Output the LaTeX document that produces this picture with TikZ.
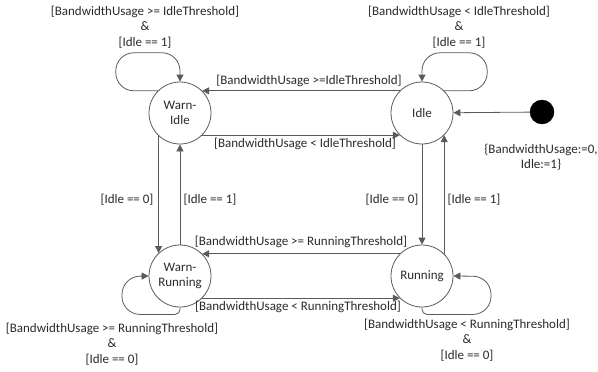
\documentclass[tikz,border=0pt]{standalone}
\usepackage{fontspec}
\setmainfont{Carlito}
\usetikzlibrary{arrows.meta}
\definecolor{linec}{HTML}{5A5A5A}
\definecolor{textc}{HTML}{2A2A2A}
\begin{document}
\begin{tikzpicture}[x=1pt,y=-1pt,
  state/.style={circle,draw=linec,line width=0.8pt,minimum size=62pt,inner sep=0pt,align=center,text=textc,font=\fontsize{13}{14.5}\selectfont},
  lbl/.style={inner sep=0pt,align=center,text=textc,font=\fontsize{13}{15.5}\selectfont},
  arr/.style={draw=linec,line width=0.8pt,-{Triangle[length=7pt,width=7pt]}},
  initdot/.style={circle,fill=black,draw=black,minimum size=24pt,inner sep=0pt}
  ]
\useasboundingbox (0,0) rectangle (598,372);

\node[state] (wi) at (180,113) {Warn-\\Idle};
\node[state] (id) at (422,113) {Idle};
\node[state] (wr) at (180,276) {Warn-\\Running};
\node[state] (ru) at (422,276) {Running};
\node[initdot] (init) at (542,112) {};

% horizontal transitions
\draw[arr] (id.135) -- (wi.45);
\draw[arr] (wi.-45) -- (id.-135);
\draw[arr] (ru.135) -- (wr.45);
\draw[arr] (wr.-45) -- (ru.-135);

% vertical transitions
\draw[arr] (wi.-133) -- (wr.133);
\draw[arr] (wr.north) -- (wi.south);
\draw[arr] (id.south) -- (ru.north);
\draw[arr] (ru.45) -- (id.-45);

% initial
\draw[arr] (init) -- (id);

% self loops
\draw[arr,rounded corners=18pt] (wi.135) -- ++(-42,0) -- ++(0,-38) -| (wi.north);
\draw[arr,rounded corners=18pt] (id.45) -- ++(43,0) -- ++(0,-38) -| (id.north);
\draw[arr] (wr.south) [rounded corners=5pt] -- ++(0,7) [rounded corners=18pt] -- ++(-58,0) -- ++(0,-38) -- (wr.west);
\draw[arr] (ru.south) [rounded corners=5pt] -- ++(0,7) [rounded corners=18pt] -- ++(69,0) -- ++(0,-38) -- (ru.east);

% labels
\node[lbl] (l1) at (145,27) {[BandwidthUsage >= IdleThreshold]\\\&\\{}[Idle == 1]};
\node[lbl] (l2) at (459,27) {[BandwidthUsage < IdleThreshold]\\\&\\{}[Idle == 1]};
\node[lbl] (l3) at (309,81) {[BandwidthUsage >=IdleThreshold]};
\node[lbl] (l4) at (305,144) {[BandwidthUsage < IdleThreshold]};
\node[lbl] (l5) at (127,200) {[Idle == 0]};
\node[lbl] (l6) at (210,200) {[Idle == 1]};
\node[lbl] (l7) at (392,200) {[Idle == 0]};
\node[lbl] (l8) at (474,200) {[Idle == 1]};
\node[lbl] (l9) at (301,242) {[BandwidthUsage >= RunningThreshold]};
\node[lbl] (l10) at (298,307) {[BandwidthUsage < RunningThreshold]};
\node[lbl] (l11) at (112,344) {[BandwidthUsage >= RunningThreshold]\\\&\\{}[Idle == 0]};
\node[lbl] (l12) at (467,340) {[BandwidthUsage < RunningThreshold]\\\&\\{}[Idle == 0]};
\node[lbl] (l13) at (541,157) {\{BandwidthUsage:=0,\\Idle:=1\}};
\end{tikzpicture}
\end{document}
